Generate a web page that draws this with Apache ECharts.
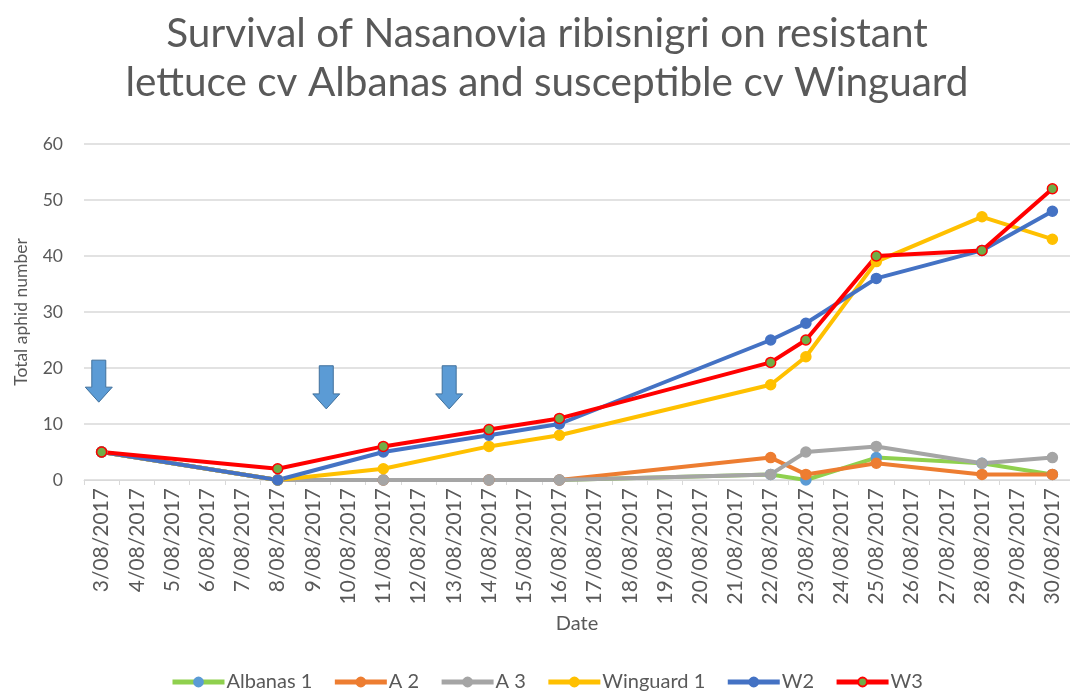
<!DOCTYPE html>
<html>
<head>
<meta charset="utf-8">
<script src="https://cdn.jsdelivr.net/npm/echarts@6/dist/echarts.min.js"></script>
<style>
  html, body { margin: 0; padding: 0; background: #ffffff; }
  #chart { width: 1070px; height: 697px; }
</style>
</head>
<body>
<div id="chart"></div>
<script>
var categories = ['3/08/2017','4/08/2017','5/08/2017','6/08/2017','7/08/2017','8/08/2017','9/08/2017','10/08/2017',
  '11/08/2017','12/08/2017','13/08/2017','14/08/2017','15/08/2017','16/08/2017','17/08/2017','18/08/2017',
  '19/08/2017','20/08/2017','21/08/2017','22/08/2017','23/08/2017','24/08/2017','25/08/2017','26/08/2017',
  '27/08/2017','28/08/2017','29/08/2017','30/08/2017'];
var sampleDates = ['3/08/2017','8/08/2017','11/08/2017','14/08/2017','16/08/2017','22/08/2017','23/08/2017','25/08/2017','28/08/2017','30/08/2017'];
var albanas1  = [5, 0, 0, 0, 0, 1, 0, 4, 3, 1];
var a2        = [5, 0, 0, 0, 0, 4, 1, 3, 1, 1];
var a3        = [5, 0, 0, 0, 0, 1, 5, 6, 3, 4];
var winguard1 = [5, 0, 2, 6, 8, 17, 22, 39, 47, 43];
var w2        = [5, 0, 5, 8, 10, 25, 28, 36, 41, 48];
var w3        = [5, 2, 6, 9, 11, 21, 25, 40, 41, 52];
var yTicks = [0, 10, 20, 30, 40, 50, 60];
// arrow annotations: [category position (index), top value, tip value]
var arrows = [[-0.08, 21.4, 13.9], [6.38, 20.4, 12.7], [9.87, 20.4, 12.7]];

function pairs(vals) { return sampleDates.map(function (d, i) { return [d, vals[i]]; }); }

var FONT = 'Lato, "Open Sans", sans-serif';
var TXT = '#595959';

function mk(name, vals, lineColor, fill, border) {
  return {
    name: name, type: 'line', data: pairs(vals),
    symbol: 'circle', symbolSize: 10,
    lineStyle: { color: lineColor, width: 4 },
    itemStyle: { color: fill, borderColor: border, borderWidth: 1.5 },
    emphasis: { disabled: true },
    z: 2
  };
}

var legendNames = ['Albanas 1', 'A 2', 'A 3', 'Winguard 1', 'W2', 'W3'];

var chart = echarts.init(document.getElementById('chart'));
chart.setOption({
  animation: false,
  backgroundColor: '#ffffff',
  textStyle: { fontFamily: FONT },
  title: {
    text: 'Survival of Nasanovia ribisnigri on resistant\nlettuce cv Albanas and susceptible cv Winguard',
    left: 547, textAlign: 'center', top: 4, padding: [5, 0, 5, 0],
    textStyle: { fontFamily: FONT, fontSize: 40.5, fontWeight: 'normal', color: TXT, lineHeight: 49 }
  },
  legend: {
    bottom: 0, left: 165, padding: 5,
    itemWidth: 52, itemHeight: 11, itemGap: 20,
    lineStyle: { width: 5 },
    textStyle: { fontFamily: FONT, fontSize: 20, color: TXT, padding: [0, 0, 0, -3] },
    data: legendNames.map(function (n) { return { name: n, lineStyle: { width: 5 } }; })
  },
  grid: { left: 84, right: -10, top: 144, bottom: 217, containLabel: false },
  xAxis: {
    type: 'category', data: categories, boundaryGap: true,
    name: 'Date', nameLocation: 'middle', nameGap: 134,
    nameTextStyle: { fontFamily: FONT, fontSize: 20, color: TXT },
    axisLine: { lineStyle: { color: '#D9D9D9', width: 1 } },
    axisTick: { show: true, length: 5, lineStyle: { color: '#D9D9D9' } },
    axisLabel: { interval: 0, rotate: 90, color: TXT, fontSize: 21, margin: 8, fontFamily: FONT },
    splitLine: { show: false }
  },
  yAxis: {
    type: 'value', min: yTicks[0], max: yTicks[yTicks.length - 1], interval: 10,
    name: 'Total aphid number', nameLocation: 'middle', nameGap: 54,
    nameTextStyle: { fontFamily: FONT, fontSize: 17.5, color: TXT },
    axisLine: { show: false }, axisTick: { show: false },
    axisLabel: { color: TXT, fontSize: 17.5, margin: 21, fontFamily: FONT },
    splitLine: { lineStyle: { color: '#D9D9D9', width: 1.5 } }
  },
  series: [
    mk('Albanas 1', albanas1, '#8FD04E', '#5B9BD5', '#5B9BD5'),
    mk('A 2', a2, '#ED7D31', '#ED7D31', '#ED7D31'),
    mk('A 3', a3, '#A5A5A5', '#A5A5A5', '#A5A5A5'),
    mk('Winguard 1', winguard1, '#FFC000', '#FFC000', '#FFC000'),
    mk('W2', w2, '#4472C4', '#4472C4', '#4472C4'),
    mk('W3', w3, '#FF0000', '#70AD47', '#FF0000')
  ]
});

function catX(pos) {
  var i0 = Math.floor(pos), i1 = i0 + 1;
  var x0 = chart.convertToPixel({ gridIndex: 0 }, [Math.max(i0, 0), 0])[0];
  var x1 = chart.convertToPixel({ gridIndex: 0 }, [Math.max(i1, 1), 0])[0];
  var step = x1 - x0;
  if (i0 < 0) { x0 = x0 - step; }
  return x0 + (pos - i0) * step;
}
var graphics = arrows.map(function (a) {
  var cx = catX(a[0]);
  var top = chart.convertToPixel({ gridIndex: 0 }, [0, a[1]])[1];
  var tip = chart.convertToPixel({ gridIndex: 0 }, [0, a[2]])[1];
  var headH = 15, sw = 7, hw = 13.5;
  return {
    type: 'polygon', z: 10,
    shape: { points: [[cx - sw, top], [cx + sw, top], [cx + sw, tip - headH], [cx + hw, tip - headH], [cx, tip], [cx - hw, tip - headH], [cx - sw, tip - headH]] },
    style: { fill: '#5B9BD5', stroke: '#41719C', lineWidth: 1 }
  };
});
chart.setOption({ graphic: graphics });
</script>
</body>
</html>
